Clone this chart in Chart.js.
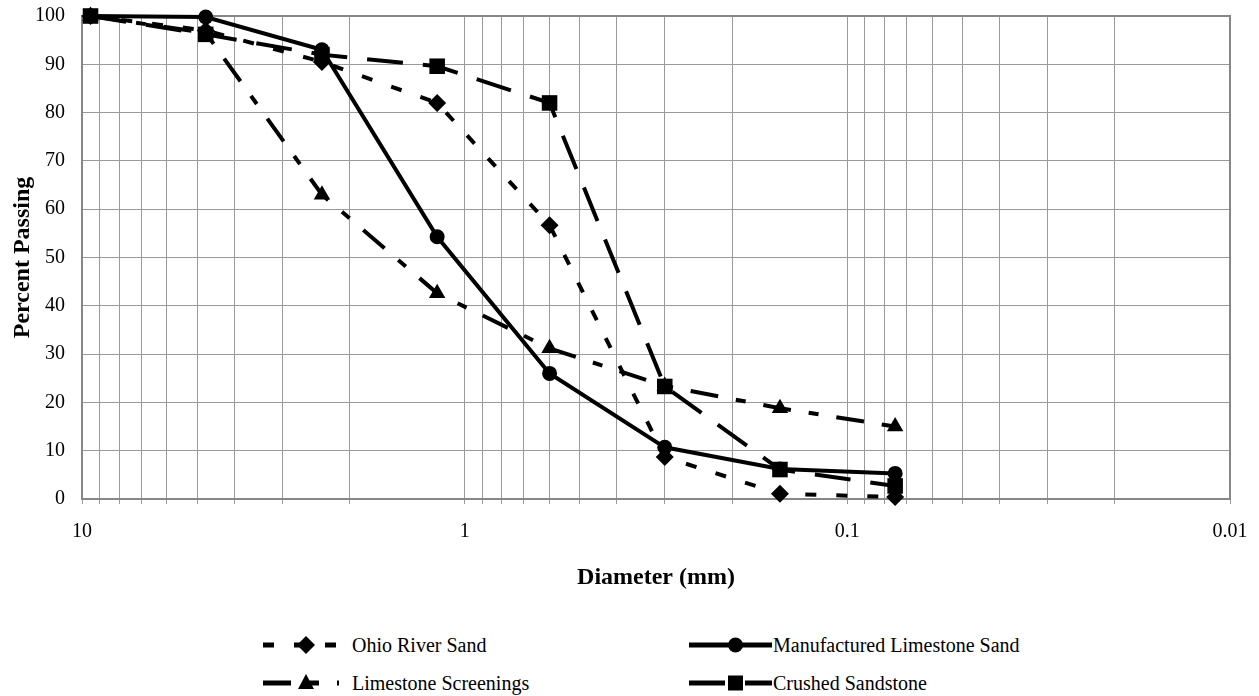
<!DOCTYPE html>
<html>
<head>
<meta charset="utf-8">
<script src="https://cdn.jsdelivr.net/npm/chart.js@4"></script>
<style>
  body { margin: 0; background: #fff; }
  #wrap { position: relative; width: 1259px; height: 696px; }
  #chart { position: absolute; left: 0; top: 0; }
  .item { position: absolute; height: 24px; display: flex; align-items: center;
          font-family: "Liberation Serif", serif; font-size: 20px; color: #000; white-space: nowrap; }
  .item svg { flex: none; }
</style>
</head>
<body>
<div id="wrap">
  <canvas id="chart" width="1259" height="610"></canvas>
  <div id="legend"></div>
</div>
<script>
// sieve openings (mm) and percent passing per material
const sieveSizes = [9.5, 4.75, 2.36, 1.18, 0.6, 0.3, 0.15, 0.075];
const ohioRiverSand = [100, 97, 90.5, 82, 56.7, 8.7, 1.1, 0.4];
const manufacturedLimestoneSand = [100, 99.8, 93, 54.3, 26, 10.7, 6.2, 5.3];
const limestoneScreenings = [100, 96.5, 63, 42.6, 31.2, 23.4, 18.8, 15];
const crushedSandstone = [100, 96.2, 92, 89.6, 82, 23.3, 6.1, 2.7];
const xTickLabels = ["10", "1", "0.1", "0.01"];

const pts = arr => sieveSizes.map((d, i) => ({ x: d, y: arr[i] }));

const series = [
  { label: "Ohio River Sand", data: ohioRiverSand, style: "rectRot", r: 9, dash: [11, 20] },
  { label: "Manufactured Limestone Sand", data: manufacturedLimestoneSand, style: "circle", r: 7.5, dash: [] },
  { label: "Limestone Screenings", data: limestoneScreenings, style: "triangle", r: 9.5, dash: [28, 18, 10, 18] },
  { label: "Crushed Sandstone", data: crushedSandstone, style: "rect", r: 11, dash: [36, 20] }
];

// minor grid lines at 1..9 of every decade
const gridTicks = [];
for (let e = -2; e <= 0; e++) {
  for (let m = 1; m <= 9; m++) gridTicks.push(parseFloat((m * Math.pow(10, e)).toPrecision(4)));
}
gridTicks.push(10);

const plotBorder = {
  id: "plotBorder",
  beforeDatasetsDraw(chart) {
    const a = chart.chartArea, ctx = chart.ctx;
    ctx.save();
    ctx.strokeStyle = "#878787";
    ctx.lineWidth = 2;
    ctx.strokeRect(a.left, a.top, a.right - a.left, a.bottom - a.top);
    ctx.restore();
  }
};

const chart = new Chart(document.getElementById("chart"), {
  type: "line",
  data: {
    datasets: series.map(s => ({
      label: s.label,
      data: pts(s.data),
      borderColor: "#000",
      backgroundColor: "#000",
      borderWidth: 4,
      borderDash: s.dash,
      pointStyle: s.style,
      pointRadius: s.r,
      pointBackgroundColor: "#000",
      pointBorderColor: "#000",
      pointBorderWidth: 0,
      tension: 0,
      clip: false
    }))
  },
  options: {
    responsive: false,
    animation: false,
    layout: { padding: { top: 16, right: 29, bottom: 0, left: 0 } },
    plugins: { legend: { display: false }, tooltip: { enabled: false } },
    scales: {
      x: {
        type: "logarithmic",
        reverse: true,
        min: 0.01,
        max: 10,
        afterBuildTicks: scale => { scale.ticks = gridTicks.map(v => ({ value: v })); },
        afterFit: scale => { scale.height = 111; },
        grid: { color: "#9a9a9a", lineWidth: 1, tickLength: 5, tickColor: "#9a9a9a" },
        border: { display: false },
        ticks: {
          autoSkip: false,
          maxRotation: 0,
          padding: 16,
          color: "#000",
          font: { family: "Liberation Serif", size: 20 },
          callback: v => xTickLabels.includes(String(v)) ? String(v) : ""
        },
        title: {
          display: true,
          text: "Diameter (mm)",
          color: "#000",
          font: { family: "Liberation Serif", size: 24, weight: "bold" },
          padding: { top: 0, bottom: 18 }
        }
      },
      y: {
        min: 0,
        max: 100,
        afterFit: scale => { scale.width = 82; },
        grid: { color: "#9a9a9a", lineWidth: 1, drawTicks: true, tickLength: 17, tickColor: "rgba(0,0,0,0)" },
        border: { display: false },
        ticks: {
          stepSize: 10,
          padding: 0,
          color: "#000",
          font: { family: "Liberation Serif", size: 20 }
        },
        title: {
          display: true,
          text: "Percent Passing",
          color: "#000",
          font: { family: "Liberation Serif", size: 24, weight: "bold" },
          padding: { top: 8, bottom: 0 }
        }
      }
    }
  },
  plugins: [plotBorder]
});

// legend: two columns under the chart
function marker(style, cx, cy) {
  if (style === "circle") return `<circle cx="${cx}" cy="${cy}" r="7.5"/>`;
  if (style === "rect") return `<rect x="${cx - 7.5}" y="${cy - 7.5}" width="15" height="15"/>`;
  if (style === "rectRot") return `<polygon points="${cx},${cy - 9} ${cx + 9},${cy} ${cx},${cy + 9} ${cx - 9},${cy}"/>`;
  return `<polygon points="${cx},${cy - 9} ${cx + 8},${cy + 6} ${cx - 8},${cy + 6}"/>`;
}
const spots = [
  { x: 263, y: 633, gap: 13 },
  { x: 689, y: 633, gap: 1 },
  { x: 263, y: 671, gap: 13 },
  { x: 689, y: 671, gap: 1 }
];
const legend = document.getElementById("legend");
series.forEach((s, i) => {
  const p = spots[i];
  const w = i % 2 ? 83 : 76;
  const div = document.createElement("div");
  div.className = "item";
  div.style.left = p.x + "px";
  div.style.top = p.y + "px";
  div.innerHTML =
    `<svg width="${w}" height="24"><line x1="0" y1="12" x2="${w}" y2="12" stroke="#000" stroke-width="5" stroke-dasharray="${s.dash.join(" ")}"/>` +
    `<g fill="#000">${marker(s.style, w / 2 + 5, 12)}</g></svg>` +
    `<span style="margin-left:${p.gap}px">${s.label}</span>`;
  legend.appendChild(div);
});
</script>
</body>
</html>
